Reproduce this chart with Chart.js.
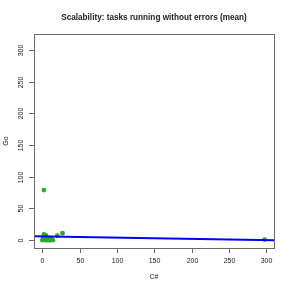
<!DOCTYPE html>
<html><head><meta charset="utf-8">
<script src="https://cdn.jsdelivr.net/npm/chart.js@4"></script>
<style>html,body{margin:0;padding:0;background:#fff}#wrap{width:291px;height:291px}</style>
</head><body><div id="wrap"><canvas id="c" width="291" height="291"></canvas></div>
<script>
const titleText = "Scalability: tasks running without errors (mean)";
const xTitle = "C#";
const yTitle = "Go";
const csValues = [2, 0, 1, 2, 3, 4, 5, 6, 8, 10, 12, 14, 2, 1, 5, 3, 7, 20, 27, 298];
const goValues = [79, 0, 1, 9, 8, 2, 0, 1, 3, 0, 2, 0, 3, 5, 7, 1, 0, 7, 11, 1];
const xTicks = [0, 50, 100, 150, 200, 250, 300];
const yTicks = [0, 50, 100, 150, 200, 250, 300];
const fitIntercept = 6.1;
const fitSlope = -0.0196;
const xMin = -11.3, xMax = 310.6, yMin = -12.3, yMax = 325.2;

const pts = csValues.map((v, i) => ({x: v, y: goValues[i]}));
const fitLine = [{x: xMin, y: fitIntercept + fitSlope * xMin}, {x: xMax, y: fitIntercept + fitSlope * xMax}];

const FONT = '"Liberation Sans", Arial, sans-serif';
const deco = {
  id: 'deco',
  afterDraw(chart) {
    const ctx = chart.ctx, a = chart.chartArea;
    const xs = chart.scales.x, ys = chart.scales.y;
    ctx.save();
    ctx.strokeStyle = '#6a6a6a';
    ctx.lineWidth = 1;
    ctx.strokeRect(Math.round(a.left) + 0.5, Math.round(a.top) + 0.5, Math.round(a.right - a.left), Math.round(a.bottom - a.top));
    ctx.fillStyle = '#222';
    ctx.font = '7px ' + FONT;
    ctx.textAlign = 'center';
    ctx.textBaseline = 'middle';
    xTicks.forEach(t => {
      const px = Math.round(xs.getPixelForValue(t)) + 0.5;
      ctx.beginPath(); ctx.moveTo(px, a.bottom); ctx.lineTo(px, a.bottom + 5); ctx.stroke();
      ctx.fillText(String(t), px, 261);
    });
    yTicks.forEach(t => {
      const py = Math.round(ys.getPixelForValue(t)) + 0.5;
      ctx.beginPath(); ctx.moveTo(a.left, py); ctx.lineTo(a.left - 5, py); ctx.stroke();
      ctx.save(); ctx.translate(21.5, py); ctx.rotate(-Math.PI / 2); ctx.fillText(String(t), 0, 0); ctx.restore();
    });
    ctx.fillText(xTitle, (a.left + a.right) / 2, 277);
    ctx.save(); ctx.translate(6, (a.top + a.bottom) / 2); ctx.rotate(-Math.PI / 2); ctx.fillText(yTitle, 0, 0); ctx.restore();
    ctx.font = 'bold 8.2px ' + FONT;
    ctx.fillText(titleText, (a.left + a.right) / 2, 18);
    ctx.restore();
  }
};

new Chart(document.getElementById('c'), {
  type: 'scatter',
  data: {
    datasets: [
      {type: 'line', data: fitLine, borderColor: '#0000ff', borderWidth: 2, pointRadius: 0, fill: false, order: 0},
      {data: pts, backgroundColor: '#2fa82f', borderColor: '#2fa82f', pointRadius: 2.4, pointBorderWidth: 0, order: 1}
    ]
  },
  options: {
    responsive: false, animation: false, devicePixelRatio: 1,
    layout: {padding: {left: 34, top: 34, right: 17, bottom: 43}},
    plugins: {legend: {display: false}, tooltip: {enabled: false}},
    scales: {
      x: {type: 'linear', min: xMin, max: xMax, display: false},
      y: {type: 'linear', min: yMin, max: yMax, display: false}
    }
  },
  plugins: [deco]
});
</script></body></html>
